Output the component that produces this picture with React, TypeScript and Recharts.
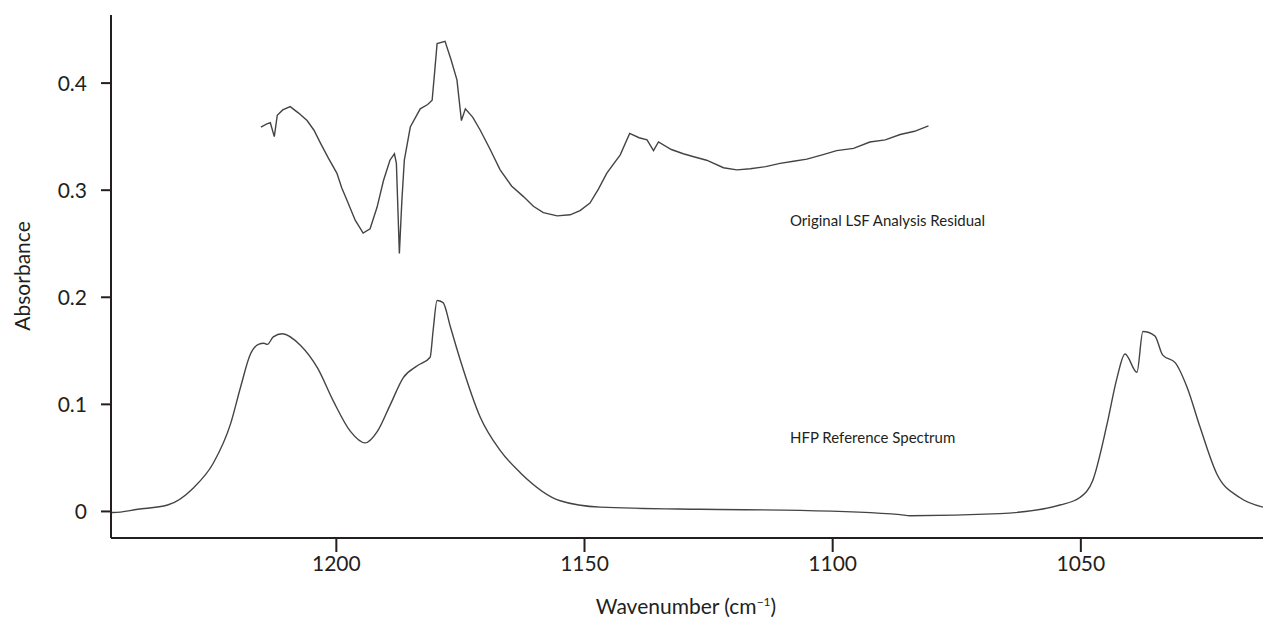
import React from "react";
import { LineChart, Line, XAxis, YAxis, Label } from "recharts";

// HFP reference spectrum: [wavenumber, absorbance]
const hfpWave = [1245.4, 1244.9, 1240, 1234.0, 1228.8, 1224.8, 1221.3, 1219.3, 1217.3, 1215.7, 1214.6, 1213.9, 1212.7, 1210.9, 1207.2, 1203.8, 1200.6, 1197.2, 1194.2, 1191.7, 1189.1, 1186.5, 1183.7, 1181.1, 1180.5, 1179.7, 1178.5, 1177.0, 1175.0, 1171.0, 1167.0, 1162.9, 1154.9, 1146.8, 1126.7, 1106.6, 1086.4, 1084.4, 1066.3, 1054.2, 1050.2, 1047.6, 1044.7, 1042.7, 1041.1, 1038.7, 1037.5, 1035.1, 1033.5, 1031.0, 1028.6, 1026.0, 1022.6, 1018.0, 1013.3];
const hfpAbs = [-0.001, -0.001, 0.002, 0.006, 0.022, 0.045, 0.082, 0.116, 0.147, 0.156, 0.157, 0.156, 0.163, 0.166, 0.155, 0.134, 0.103, 0.075, 0.064, 0.075, 0.1, 0.125, 0.136, 0.144, 0.169, 0.197, 0.195, 0.172, 0.141, 0.088, 0.057, 0.036, 0.01, 0.004, 0.002, 0.001, -0.003, -0.004, -0.002, 0.006, 0.013, 0.029, 0.082, 0.125, 0.147, 0.13, 0.168, 0.164, 0.146, 0.139, 0.116, 0.079, 0.035, 0.013, 0.004];

// Original LSF analysis residual
const resWave = [1215.2, 1214.0, 1213.3, 1212.5, 1211.9, 1210.8, 1209.3, 1207.6, 1205.9, 1204.5, 1203.2, 1201.6, 1199.9, 1198.9, 1197.9, 1196.2, 1194.6, 1193.2, 1191.8, 1190.5, 1189.2, 1188.3, 1187.9, 1187.3, 1186.8, 1186.3, 1185.1, 1183.1, 1181.6, 1180.7, 1180.2, 1179.7, 1178.1, 1176.9, 1175.7, 1174.8, 1174.0, 1172.5, 1171.0, 1169.0, 1167.0, 1164.7, 1162.3, 1160.3, 1158.3, 1155.5, 1152.9, 1150.9, 1148.9, 1147.2, 1145.5, 1142.8, 1140.9, 1139.0, 1137.4, 1136.1, 1135.1, 1132.5, 1130.1, 1127.8, 1125.4, 1122.0, 1119.3, 1116.6, 1113.5, 1110.6, 1107.9, 1105.2, 1102.1, 1099.2, 1095.8, 1092.5, 1089.4, 1086.4, 1083.5, 1080.7];
const resAbs = [0.359, 0.362, 0.363, 0.35, 0.37, 0.375, 0.378, 0.372, 0.365, 0.356, 0.344, 0.33, 0.316, 0.302, 0.291, 0.272, 0.26, 0.264, 0.284, 0.309, 0.328, 0.334, 0.325, 0.241, 0.29, 0.328, 0.359, 0.376, 0.38, 0.384, 0.41, 0.437, 0.439, 0.422, 0.403, 0.365, 0.376, 0.368, 0.356, 0.338, 0.319, 0.304, 0.294, 0.285, 0.279, 0.276, 0.277, 0.281, 0.288, 0.301, 0.316, 0.333, 0.353, 0.349, 0.347, 0.337, 0.345, 0.338, 0.334, 0.331, 0.328, 0.321, 0.319, 0.32, 0.322, 0.325, 0.327, 0.329, 0.333, 0.337, 0.339, 0.345, 0.347, 0.352, 0.355, 0.36];

const xTicks = [1200, 1150, 1100, 1050];
const yTicks = [0, 0.1, 0.2, 0.3, 0.4];

const hfpData = hfpWave.map((w, i) => ({ w, v: hfpAbs[i] }));
const resData = resWave.map((w, i) => ({ w, v: resAbs[i] }));

const FONT = "Lato, 'Open Sans', sans-serif";
const INK = "#231f20";

export default function App() {
  return (
    <div style={{ position: "absolute", left: 0, top: 0, width: 1263, height: 625, fontFamily: FONT, background: "#fff" }}>
      <LineChart width={1263} height={625} margin={{ top: 15, right: 0, left: 0, bottom: 0 }}>
        <XAxis
          type="number"
          dataKey="w"
          domain={[1013.3, 1245.4]}
          reversed
          allowDataOverflow
          ticks={xTicks}
          tickSize={14}
          height={87}
          stroke={INK}
          strokeWidth={2}
          tick={{ fill: INK, fontSize: 21, fontFamily: FONT }}
          tickMargin={4}
        >
          <Label
            position="insideBottom"
            content={() => (
              <text x={686} y={614} textAnchor="middle" fill={INK} style={{ fontSize: 21, fontFamily: FONT }}>
                Wavenumber (cm<tspan dy={-8} fontSize={12}>−1</tspan><tspan dy={8}>)</tspan>
              </text>
            )}
          />
        </XAxis>
        <YAxis
          type="number"
          dataKey="v"
          domain={[-0.0248, 0.4636]}
          allowDataOverflow
          ticks={yTicks}
          tickFormatter={(v: number) => (v === 0 ? "0" : v.toFixed(1))}
          width={111}
          tickSize={10}
          stroke={INK}
          strokeWidth={2}
          tick={{ fill: INK, fontSize: 21, fontFamily: FONT }}
          tickMargin={14}
        >
          <Label
            content={() => (
              <text x={30} y={276} transform="rotate(-90 30 276)" textAnchor="middle" fill={INK} style={{ fontSize: 21, fontFamily: FONT }}>
                Absorbance
              </text>
            )}
          />
        </YAxis>
        <Line data={hfpData} dataKey="v" type="monotone" stroke="#444" strokeWidth={1.4} dot={false} isAnimationActive={false} />
        <Line data={resData} dataKey="v" type="linear" stroke="#444" strokeWidth={1.4} dot={false} isAnimationActive={false} />
      </LineChart>
      <div style={{ position: "absolute", left: 790, top: 211, fontSize: 15, color: INK }}>Original LSF Analysis Residual</div>
      <div style={{ position: "absolute", left: 790, top: 428, fontSize: 15, color: INK }}>HFP Reference Spectrum</div>
    </div>
  );
}
